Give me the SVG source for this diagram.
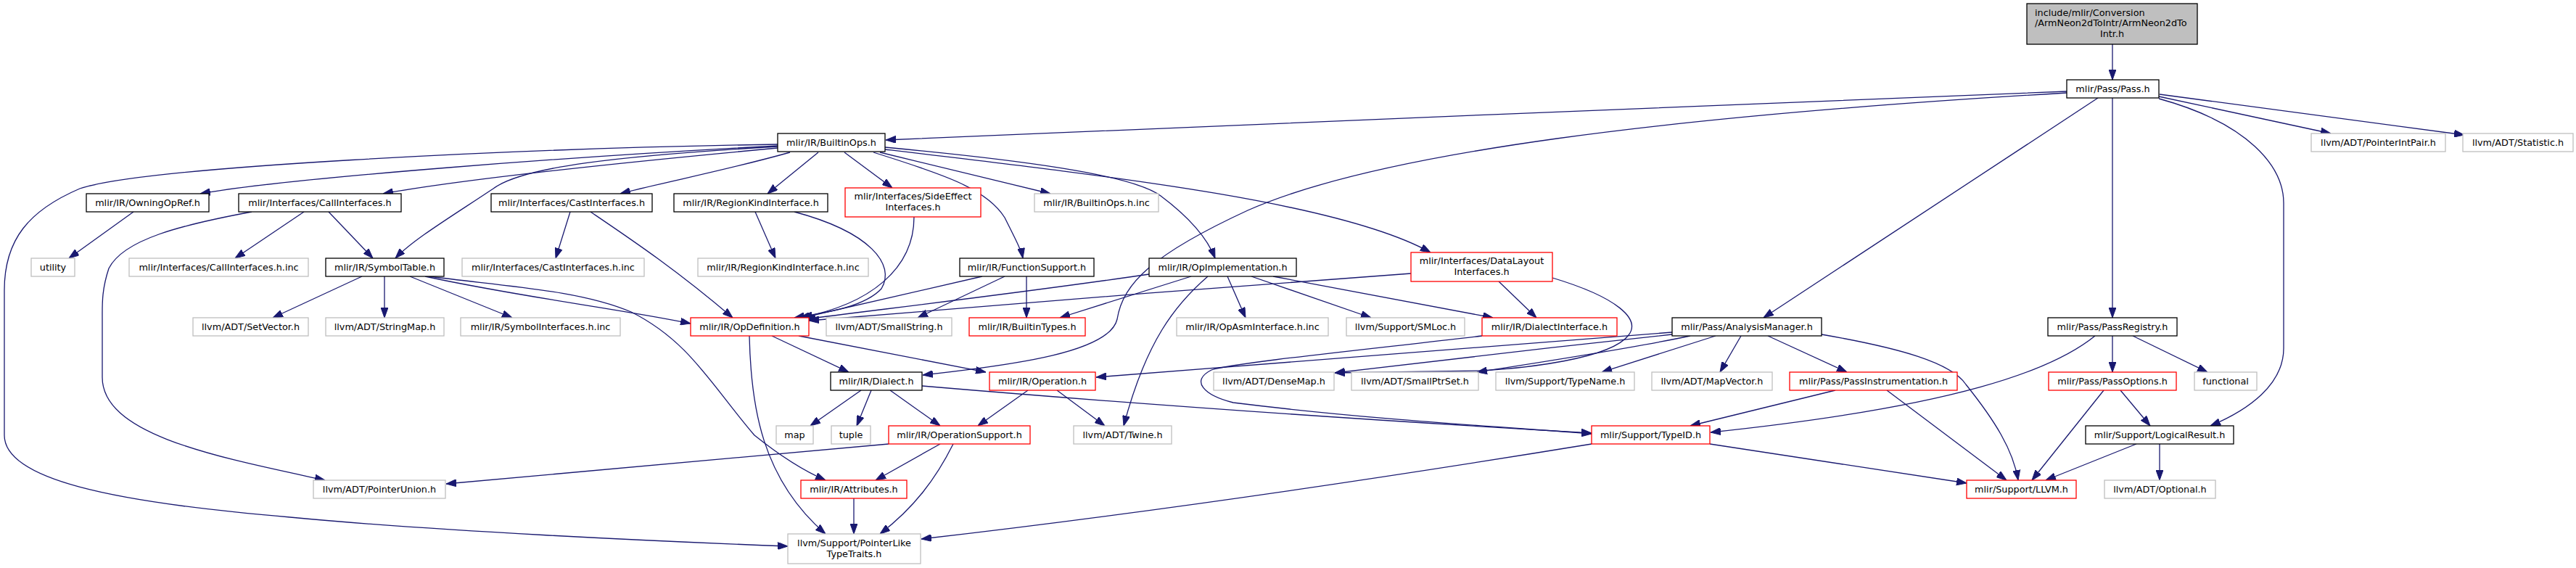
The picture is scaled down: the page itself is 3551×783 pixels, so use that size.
<svg xmlns="http://www.w3.org/2000/svg" width="3551" height="783" viewBox="0 0 3551 783">
<style>
rect{fill:#fff;stroke-width:1.3}
.b{stroke:#000}
.r{stroke:#ff0000}
.g{stroke:#bfbfbf}
.top{fill:#bfbfbf;stroke:#000}
text{font-family:"DejaVu Sans","Liberation Sans",sans-serif;font-size:12.8px;fill:#000;text-anchor:middle}
.e path{fill:none;stroke:#191970;stroke-width:1.3;marker-end:url(#a)}
</style>
<defs>
<marker id="a" markerWidth="14" markerHeight="10" refX="14" refY="5" orient="auto" markerUnits="userSpaceOnUse"><path d="M0,0 L14,5 L0,10 z" fill="#191970" stroke="#191970" stroke-width="1"/></marker>
</defs>
<rect x="0" y="0" width="3551" height="783" style="fill:#fff;stroke:none"/>
<g class="e" id="edges">
<path d="M2912,61 L2912,110"/>
<path d="M2849,126 C2500,140 1500,180 1221,193"/>
<path d="M2849,128 C2300,160 1900,210 1720,290 C1590,350 1548,390 1540,440 C1530,485 1400,503 1272,517"/>
<path d="M2892,135 L2431,438"/>
<path d="M2912,135 L2912,438"/>
<path d="M2976,136 C3100,170 3148,230 3148,280 L3148,480 C3148,530 3100,565 3047,587"/>
<path d="M2976,133 L3213,184"/>
<path d="M2977,130 L3397,186"/>
<path d="M1072,199 C700,205 200,230 110,260 C40,290 6,330 6,400 L6,600 C6,660 150,692 400,713 C600,732 900,746 1086,753"/>
<path d="M1072,201 C800,215 400,245 276,267"/>
<path d="M1072,204 C900,220 650,245 528,267"/>
<path d="M1072,202 C850,215 720,230 680,260 C620,300 570,330 545,356"/>
<path d="M1089,210 C1000,235 920,250 855,267"/>
<path d="M1128,210 L1058,267"/>
<path d="M1164,210 L1230,259"/>
<path d="M1204,210 C1300,240 1360,260 1385,300 C1400,330 1408,345 1410,356"/>
<path d="M1213,210 L1448,267"/>
<path d="M1220,203 C1400,220 1560,240 1600,270 C1640,300 1665,330 1675,356"/>
<path d="M1220,206 C1550,245 1850,280 1972,348"/>
<path d="M184,292 L95,356"/>
<path d="M419,292 L324,356"/>
<path d="M453,292 L514,356"/>
<path d="M347,292 C250,310 170,330 150,370 C140,400 141,420 141,440 L141,520 C141,600 300,630 448,662"/>
<path d="M786,292 L766,356"/>
<path d="M814,292 C870,330 930,370 1010,438"/>
<path d="M1041,292 L1069,356"/>
<path d="M1095,292 C1200,320 1235,365 1215,398 C1190,425 1130,432 1095,438"/>
<path d="M1260,299 C1260,370 1200,420 1102,438"/>
<path d="M1354,381 C1250,405 1160,425 1106,438"/>
<path d="M1385,381 L1265,438"/>
<path d="M1415,381 L1415,438"/>
<path d="M1584,378 C1400,405 1200,428 1110,440"/>
<path d="M1642,381 L1461,438"/>
<path d="M1665,381 C1620,420 1580,470 1549,587"/>
<path d="M1692,381 L1717,438"/>
<path d="M1725,381 L1890,438"/>
<path d="M1755,381 L2058,438"/>
<path d="M1945,377 C1700,395 1300,425 1115,442"/>
<path d="M2066,388 L2118,438"/>
<path d="M2140,383 C2230,410 2262,440 2245,462 C2220,495 2100,508 2040,511 L1840,514"/>
<path d="M586,381 C720,410 850,425 952,446"/>
<path d="M499,381 L376,438"/>
<path d="M530,381 L530,438"/>
<path d="M565,381 L706,438"/>
<path d="M591,381 C700,395 800,400 870,430 C950,470 980,530 1040,600 C1080,632 1110,650 1138,662"/>
<path d="M1064,463 L1170,513"/>
<path d="M1101,463 L1359,513"/>
<path d="M1033,463 C1035,560 1050,660 1138,736"/>
<path d="M1187,538 L1117,587"/>
<path d="M1201,538 L1181,587"/>
<path d="M1227,538 L1296,587"/>
<path d="M1271,532 C1600,560 1900,580 2194,597"/>
<path d="M1417,538 L1348,587"/>
<path d="M1457,538 L1523,587"/>
<path d="M1225,612 L615,667"/>
<path d="M1296,612 L1207,662"/>
<path d="M1314,612 C1290,660 1260,700 1213,736"/>
<path d="M1177,687 L1177,736"/>
<path d="M2305,458 C2000,482 1700,505 1511,520"/>
<path d="M2305,461 C2150,478 1950,500 1840,514"/>
<path d="M2330,463 C2250,480 2120,500 2036,513"/>
<path d="M2365,463 L2208,513"/>
<path d="M2400,463 L2371,513"/>
<path d="M2437,463 L2546,513"/>
<path d="M2511,461 C2620,480 2690,500 2710,530 C2750,580 2775,620 2782,662"/>
<path d="M2530,538 L2330,587"/>
<path d="M2601,538 L2766,662"/>
<path d="M2194,612 C1900,660 1600,705 1270,743"/>
<path d="M2357,612 L2711,666"/>
<path d="M2043,463 C1900,480 1700,500 1670,510 C1640,525 1660,545 1700,555 C1900,580 2100,590 2194,598"/>
<path d="M2888,463 C2830,510 2700,560 2358,596"/>
<path d="M2912,463 L2912,513"/>
<path d="M2940,463 L3043,513"/>
<path d="M2900,538 L2801,662"/>
<path d="M2923,538 L2964,587"/>
<path d="M2945,612 L2820,662"/>
<path d="M2977,612 L2977,662"/>
</g>
<g id="n_top"><rect class="top" x="2794" y="5" width="235" height="56"/><text x="2805" y="21.5" style="text-anchor:start">include/mlir/Conversion</text><text x="2805" y="36" style="text-anchor:start">/ArmNeon2dToIntr/ArmNeon2dTo</text><text x="2911.5" y="50.5">Intr.h</text></g>
<g id="n_pass"><rect class="b" x="2849" y="110" width="127" height="25"/><text x="2912.5" y="126.5">mlir/Pass/Pass.h</text></g>
<g id="n_builtinops"><rect class="b" x="1072" y="184" width="148" height="25"/><text x="1146" y="200.5">mlir/IR/BuiltinOps.h</text></g>
<g id="n_pointerintpair"><rect class="g" x="3186" y="184" width="185" height="25"/><text x="3278.5" y="200.5">llvm/ADT/PointerIntPair.h</text></g>
<g id="n_statistic"><rect class="g" x="3395" y="184" width="152" height="25"/><text x="3471" y="200.5">llvm/ADT/Statistic.h</text></g>
<g id="n_owningopref"><rect class="b" x="119" y="267" width="169" height="25"/><text x="203.5" y="283.5">mlir/IR/OwningOpRef.h</text></g>
<g id="n_callinterfaces"><rect class="b" x="329" y="267" width="224" height="25"/><text x="441" y="283.5">mlir/Interfaces/CallInterfaces.h</text></g>
<g id="n_castinterfaces"><rect class="b" x="677" y="267" width="222" height="25"/><text x="788" y="283.5">mlir/Interfaces/CastInterfaces.h</text></g>
<g id="n_regionkind"><rect class="b" x="929" y="267" width="212" height="25"/><text x="1035" y="283.5">mlir/IR/RegionKindInterface.h</text></g>
<g id="n_sideeffect"><rect class="r" x="1165" y="259" width="187" height="40"/><text x="1258.5" y="275">mlir/Interfaces/SideEffect</text><text x="1258.5" y="290">Interfaces.h</text></g>
<g id="n_builtinopsinc"><rect class="g" x="1426" y="267" width="171" height="25"/><text x="1511.5" y="283.5">mlir/IR/BuiltinOps.h.inc</text></g>
<g id="n_utility"><rect class="g" x="43" y="356" width="60" height="25"/><text x="73" y="372.5">utility</text></g>
<g id="n_callinc"><rect class="g" x="178" y="356" width="247" height="25"/><text x="301.5" y="372.5">mlir/Interfaces/CallInterfaces.h.inc</text></g>
<g id="n_symboltable"><rect class="b" x="449" y="356" width="163" height="25"/><text x="530.5" y="372.5">mlir/IR/SymbolTable.h</text></g>
<g id="n_castinc"><rect class="g" x="637" y="356" width="251" height="25"/><text x="762.5" y="372.5">mlir/Interfaces/CastInterfaces.h.inc</text></g>
<g id="n_regionkindinc"><rect class="g" x="962" y="356" width="235" height="25"/><text x="1079.5" y="372.5">mlir/IR/RegionKindInterface.h.inc</text></g>
<g id="n_functionsupport"><rect class="b" x="1323" y="356" width="185" height="25"/><text x="1415.5" y="372.5">mlir/IR/FunctionSupport.h</text></g>
<g id="n_opimplementation"><rect class="b" x="1584" y="356" width="203" height="25"/><text x="1685.5" y="372.5">mlir/IR/OpImplementation.h</text></g>
<g id="n_datalayout"><rect class="r" x="1945" y="348" width="195" height="40"/><text x="2042.5" y="364">mlir/Interfaces/DataLayout</text><text x="2042.5" y="379">Interfaces.h</text></g>
<g id="n_setvector"><rect class="g" x="266" y="438" width="159" height="25"/><text x="345.5" y="454.5">llvm/ADT/SetVector.h</text></g>
<g id="n_stringmap"><rect class="g" x="449" y="438" width="163" height="25"/><text x="530.5" y="454.5">llvm/ADT/StringMap.h</text></g>
<g id="n_symbolinc"><rect class="g" x="635" y="438" width="220" height="25"/><text x="745" y="454.5">mlir/IR/SymbolInterfaces.h.inc</text></g>
<g id="n_opdefinition"><rect class="r" x="952" y="438" width="163" height="25"/><text x="1033.5" y="454.5">mlir/IR/OpDefinition.h</text></g>
<g id="n_smallstring"><rect class="g" x="1139" y="438" width="173" height="25"/><text x="1225.5" y="454.5">llvm/ADT/SmallString.h</text></g>
<g id="n_builtintypes"><rect class="r" x="1336" y="438" width="160" height="25"/><text x="1416" y="454.5">mlir/IR/BuiltinTypes.h</text></g>
<g id="n_opasminc"><rect class="g" x="1622" y="438" width="209" height="25"/><text x="1726.5" y="454.5">mlir/IR/OpAsmInterface.h.inc</text></g>
<g id="n_smloc"><rect class="g" x="1856" y="438" width="163" height="25"/><text x="1937.5" y="454.5">llvm/Support/SMLoc.h</text></g>
<g id="n_dialectinterface"><rect class="r" x="2043" y="438" width="186" height="25"/><text x="2136" y="454.5">mlir/IR/DialectInterface.h</text></g>
<g id="n_analysismanager"><rect class="b" x="2305" y="438" width="206" height="25"/><text x="2408" y="454.5">mlir/Pass/AnalysisManager.h</text></g>
<g id="n_passregistry"><rect class="b" x="2823" y="438" width="178" height="25"/><text x="2912" y="454.5">mlir/Pass/PassRegistry.h</text></g>
<g id="n_dialect"><rect class="b" x="1145" y="513" width="126" height="25"/><text x="1208" y="529.5">mlir/IR/Dialect.h</text></g>
<g id="n_operation"><rect class="r" x="1364" y="513" width="146" height="25"/><text x="1437" y="529.5">mlir/IR/Operation.h</text></g>
<g id="n_densemap"><rect class="g" x="1673" y="513" width="166" height="25"/><text x="1756" y="529.5">llvm/ADT/DenseMap.h</text></g>
<g id="n_smallptrset"><rect class="g" x="1863" y="513" width="175" height="25"/><text x="1950.5" y="529.5">llvm/ADT/SmallPtrSet.h</text></g>
<g id="n_typename"><rect class="g" x="2062" y="513" width="191" height="25"/><text x="2157.5" y="529.5">llvm/Support/TypeName.h</text></g>
<g id="n_mapvector"><rect class="g" x="2277" y="513" width="166" height="25"/><text x="2360" y="529.5">llvm/ADT/MapVector.h</text></g>
<g id="n_passinstrumentation"><rect class="r" x="2467" y="513" width="231" height="25"/><text x="2582.5" y="529.5">mlir/Pass/PassInstrumentation.h</text></g>
<g id="n_passoptions"><rect class="r" x="2824" y="513" width="176" height="25"/><text x="2912" y="529.5">mlir/Pass/PassOptions.h</text></g>
<g id="n_functional"><rect class="g" x="3025" y="513" width="86" height="25"/><text x="3068" y="529.5">functional</text></g>
<g id="n_map"><rect class="g" x="1070" y="587" width="51" height="25"/><text x="1095.5" y="603.5">map</text></g>
<g id="n_tuple"><rect class="g" x="1146" y="587" width="54" height="25"/><text x="1173" y="603.5">tuple</text></g>
<g id="n_operationsupport"><rect class="r" x="1225" y="587" width="195" height="25"/><text x="1322.5" y="603.5">mlir/IR/OperationSupport.h</text></g>
<g id="n_twine"><rect class="g" x="1480" y="587" width="135" height="25"/><text x="1547.5" y="603.5">llvm/ADT/Twine.h</text></g>
<g id="n_typeid"><rect class="r" x="2194" y="587" width="163" height="25"/><text x="2275.5" y="603.5">mlir/Support/TypeID.h</text></g>
<g id="n_logicalresult"><rect class="b" x="2875" y="587" width="204" height="25"/><text x="2977" y="603.5">mlir/Support/LogicalResult.h</text></g>
<g id="n_pointerunion"><rect class="g" x="432" y="662" width="182" height="25"/><text x="523" y="678.5">llvm/ADT/PointerUnion.h</text></g>
<g id="n_attributes"><rect class="r" x="1104" y="662" width="146" height="25"/><text x="1177" y="678.5">mlir/IR/Attributes.h</text></g>
<g id="n_llvm"><rect class="r" x="2711" y="662" width="151" height="25"/><text x="2786.5" y="678.5">mlir/Support/LLVM.h</text></g>
<g id="n_optional"><rect class="g" x="2901" y="662" width="153" height="25"/><text x="2977.5" y="678.5">llvm/ADT/Optional.h</text></g>
<g id="n_pointerlike"><rect class="g" x="1086" y="736" width="183" height="41"/><text x="1177.5" y="753">llvm/Support/PointerLike</text><text x="1177.5" y="767.5">TypeTraits.h</text></g>
</svg>
